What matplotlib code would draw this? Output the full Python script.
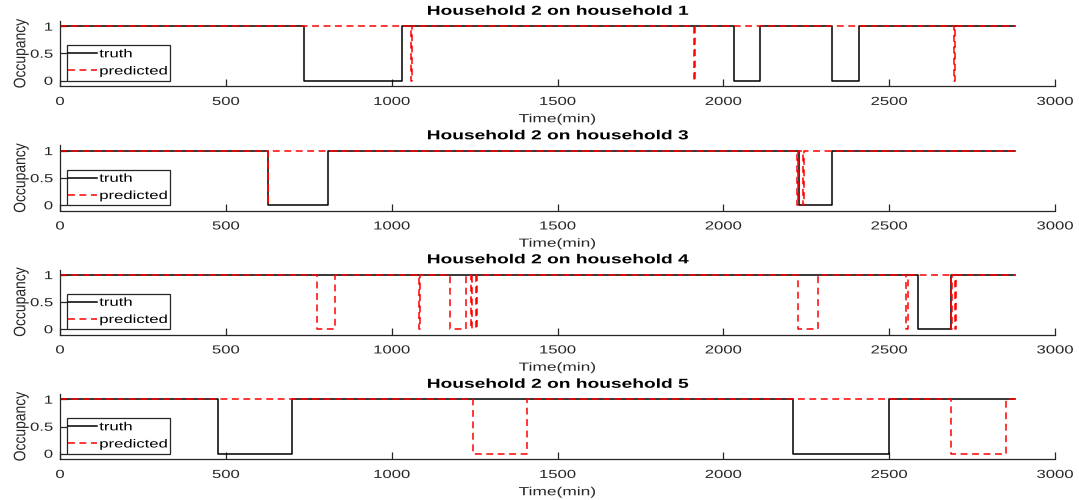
import matplotlib
matplotlib.use('Agg')
import matplotlib.pyplot as plt
from matplotlib.patheffects import AbstractPathEffect
from matplotlib.transforms import Affine2D

plt.rcParams['font.family'] = ['Liberation Sans', 'DejaVu Sans']

# ---------------- data (minutes where occupancy = 0) ----------------
t_end = 2880
titles = ['Household 2 on household 1', 'Household 2 on household 3',
          'Household 2 on household 4', 'Household 2 on household 5']
truth_off = [
    [(735, 1031), (2031, 2111), (2327, 2410)],
    [(627, 808), (2227, 2327)],
    [(2588, 2687)],
    [(477, 699), (2209, 2500)],
]
pred_off = [
    [(1058, 1060), (1912, 1914), (2695, 2697)],
    [(626, 628), (2221, 2226), (2239, 2242)],
    [(774, 828), (1083, 1085), (1175, 1224), (1239, 1241), (1255, 1257),
     (2224, 2284), (2551, 2556), (2686, 2688), (2699, 2701)],
    [(1245, 1409), (2687, 2851)],
]
xticks = [0, 500, 1000, 1500, 2000, 2500, 3000]
yticks = [0, 0.5, 1]
ytick_labels = ['0', '0.5', '1']


class Squash(AbstractPathEffect):
    """Scale glyphs along their local y axis about a reference height."""
    def __init__(self, sy, cy=36.0):
        super().__init__()
        self.sy = sy
        self.cy = cy

    def draw_path(self, renderer, gc, tpath, affine, rgbFace=None):
        tr = Affine2D().translate(0, -self.cy).scale(1, self.sy).translate(0, self.cy) + affine
        renderer.draw_path(gc, tpath, tr, rgbFace)


def step_series(off, end):
    xs, ys = [0], [1]
    for a, b in off:
        xs += [a, a, b, b]
        ys += [1, 0, 0, 1]
    xs.append(end)
    ys.append(1)
    return xs, ys


W, H = 1079, 500
fig = plt.figure(figsize=(W / 100, H / 100), dpi=100)
axc = '#262626'
bottoms_px = [86, 210.5, 334.5, 459]
ax_h = 65
left_px, right_px = 60, 1055

for i in range(4):
    ax = fig.add_axes([left_px / W, 1 - bottoms_px[i] / H, (right_px - left_px) / W, ax_h / H])
    tx, ty = step_series(truth_off[i], t_end)
    px, py = step_series(pred_off[i], t_end)
    ax.plot(tx, ty, color='black', lw=1.1, label='truth')
    ax.plot(px, py, color='red', lw=1.1, linestyle=(0, (4.5, 3)), label='predicted')
    ax.set_xlim(0, 3000)
    ax.set_ylim(-0.1, 1.1)
    ax.set_xticks(xticks)
    ax.set_yticks(yticks)
    ax.set_yticklabels(ytick_labels)
    for s in ['top', 'right']:
        ax.spines[s].set_visible(False)
    for s in ['left', 'bottom']:
        ax.spines[s].set_color(axc)
        ax.spines[s].set_linewidth(0.9)
    ax.tick_params(direction='in', length=5, width=0.9, color=axc, labelcolor=axc, labelsize=12)
    ax.tick_params(axis='x', pad=6.3)
    ax.tick_params(axis='y', pad=5)
    for lab in ax.get_xticklabels() + ax.get_yticklabels():
        lab.set_path_effects([Squash(0.7)])
    t = ax.set_title(titles[i], fontsize=13.8, fontweight='bold', pad=-2.2, color='black')
    t.set_path_effects([Squash(0.68)])
    xl = ax.set_xlabel('Time(min)', fontsize=12.5, color=axc, labelpad=1.8)
    xl.set_path_effects([Squash(0.68)])
    yl = ax.set_ylabel('Occupancy', fontsize=10, color=axc, labelpad=2)
    yl.set_path_effects([Squash(1.2)])
    leg = ax.legend(loc='lower left', bbox_to_anchor=(0.0068, 0.078), borderaxespad=0,
                    fontsize=12, borderpad=0.1, labelspacing=0.13, handlelength=1.7,
                    handletextpad=0.15, fancybox=False, framealpha=1, edgecolor=axc)
    leg.get_frame().set_linewidth(0.9)
    for txt in leg.get_texts():
        txt.set_path_effects([Squash(0.7)])
        txt.set_color('black')

fig.savefig('out.png', dpi=100)
